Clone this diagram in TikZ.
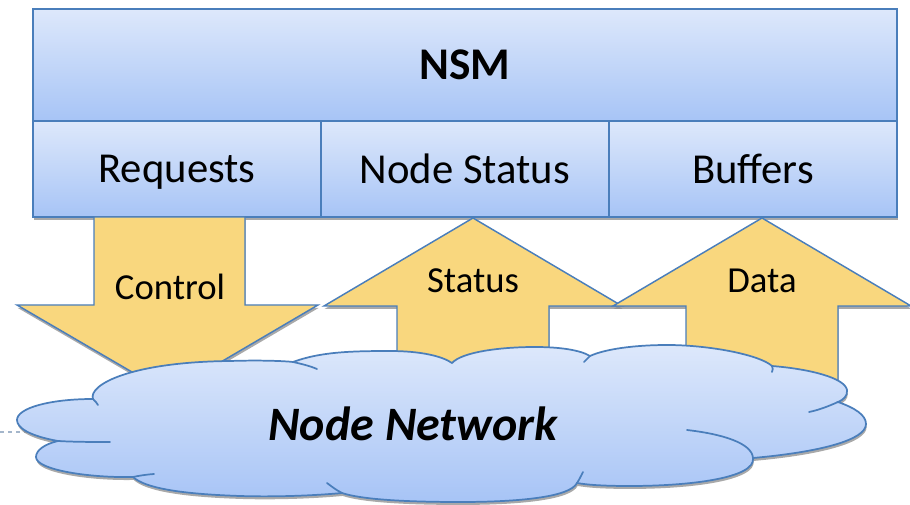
\documentclass[tikz,border=0pt]{standalone}
\usepackage{fontspec}
\setmainfont{Carlito}
\usetikzlibrary{positioning,shadows}
\definecolor{rim}{HTML}{4A7EBB}
\definecolor{sky}{HTML}{DDE8FB}
\definecolor{skydeep}{HTML}{A7C4F6}
\definecolor{honey}{HTML}{F9D77E}
\definecolor{haze}{HTML}{A4B6CB}

\tikzset{
  lift/.style={drop shadow={shadow xshift=0.5pt,shadow yshift=-2.2pt,
    fill=black!45,opacity=0.75}},
  cell/.style={draw=rim,line width=1.4pt,top color=sky,bottom color=skydeep,
    inner sep=0pt,outer sep=0pt,lift,text depth=0pt,
    font=\fontsize{32}{38}\selectfont},
  band/.style={draw=rim,line width=1.1pt,fill=honey,lift},
  puff/.style={draw=rim,line width=1.3pt,top color=sky,bottom color=skydeep,lift},
  crease/.style={draw=rim,line width=1.3pt,line cap=round},
  tag/.style={font=\fontsize{27.5}{32}\selectfont,inner sep=0pt}
}

\begin{document}
\begin{tikzpicture}[x=0.75pt,y=-0.75pt]
  \useasboundingbox (0,0) rectangle (910,505);

  % manager block: title bar over three parts
  \node[cell,minimum width=648pt,minimum height=84pt,
        font=\fontsize{34}{40}\selectfont\bfseries] (nsm) at (465,65) {NSM};
  \node[cell,anchor=north west,minimum width=216pt,minimum height=72pt]
    (req) at (nsm.south west) {Requests};
  \node[cell,right=0pt of req,minimum width=216pt,minimum height=72pt]
    (nstat) {Node Status};
  \node[cell,right=0pt of nstat,minimum width=216pt,minimum height=72pt]
    (buf) {Buffers};

  % control goes down, status and data come up
  \draw[band] (94,217) -- (245,217) -- (245,305) -- (318,305) -- (168,393)
    -- (17,305) -- (94,305) -- cycle;
  \node[tag] (lbl-Control) at (170,287) {Control};
  \foreach \cx/\name in {473/Status,762/Data}{
    \draw[band] (\cx,218) -- (\cx+149,306) -- (\cx+76,306) -- (\cx+76,430)
      -- (\cx-76,430) -- (\cx-76,306) -- (\cx-149,306) -- cycle;
    \node[tag] (lbl-\name) at (\cx,281) {\name};
  }

  \coordinate (stubL) at (0,432);
  \coordinate (stubR) at (40,432);
  \draw[haze,dashed,line width=0.8pt] (stubL) -- (stubR);

  % the network cloud
  \draw[puff] (93,399) .. controls (88,385) and (130,362) .. (230,361)
    .. controls (260,360) and (285,361) .. (293,362)
    .. controls (320,352) and (350,351) .. (390,351)
    .. controls (420,351) and (442,356) .. (452,363)
    .. controls (462,352) and (500,347) .. (535,347)
    .. controls (560,347) and (580,350) .. (590,356)
    .. controls (605,349) and (635,345) .. (667,345)
    .. controls (710,345) and (760,355) .. (772,366)
    .. controls (810,369) and (845,378) .. (847,390)
    .. controls (848,396) and (843,400) .. (838,402)
    .. controls (855,408) and (866,415) .. (866,424)
    .. controls (866,440) and (820,452) .. (753,458)
    .. controls (756,478) and (690,486) .. (630,486)
    .. controls (605,486) and (588,485) .. (577,483)
    .. controls (570,497) and (520,502) .. (460,502)
    .. controls (400,502) and (360,499) .. (342,493)
    .. controls (310,496) and (270,497) .. (240,496)
    .. controls (180,494) and (145,488) .. (133,477)
    .. controls (90,478) and (36,470) .. (36,457)
    .. controls (36,450) and (45,444) .. (58,441)
    .. controls (30,436) and (17,428) .. (17,420)
    .. controls (17,408) and (50,399) .. (93,399) -- cycle;
  % lobe ends running inside
  \draw[crease] (93,399) .. controls (95,401) and (97,403) .. (98,405);
  \draw[crease] (58,441) .. controls (75,442) and (95,442) .. (110,442);
  \draw[crease] (133,477) .. controls (140,475.5) and (147,474.5) .. (154,474);
  \draw[crease] (342,493) .. controls (336,490) and (331,486) .. (327,483);
  \draw[crease] (577,483) .. controls (579,480) and (581,476) .. (583,472);
  \draw[crease] (753,458) .. controls (752,443) and (722,434) .. (687,430);
  \draw[crease] (838,402) .. controls (829,406) and (819,410) .. (809,412);
  \draw[crease] (772,366) .. controls (773,368) and (773,370) .. (772,372);
  \draw[crease] (590,356) .. controls (588,358) and (586,360) .. (584,362);
  \draw[crease] (293,362) .. controls (302,364) and (310,366) .. (317,369);
  \node[font=\fontsize{36}{42}\selectfont\bfseries\itshape] (net)
    at (413,424) {Node Network};
\end{tikzpicture}
\end{document}
